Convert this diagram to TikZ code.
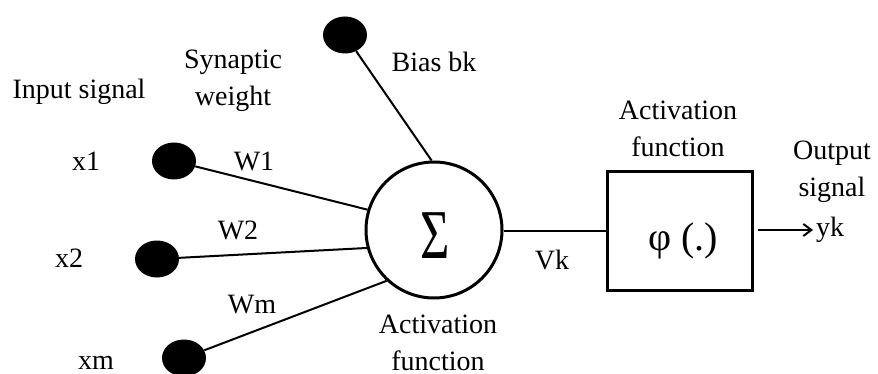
\documentclass[tikz,border=0pt]{standalone}
\usepackage{fontspec}
\usepackage{graphicx}
\setmainfont{LiberationSerif}[Extension=.ttf, UprightFont=*-Regular, BoldFont=*-Bold, ItalicFont=*-Italic]
\usetikzlibrary{shapes.geometric,arrows.meta}
\begin{document}
\begin{tikzpicture}[x=1pt,y=-1pt,
  lbl/.style={font=\fontsize{28}{37}\selectfont, align=center, inner sep=0pt},
  dot/.style={ellipse, fill=black, minimum width=44pt, minimum height=37pt, inner sep=0pt},
  wire/.style={line width=2pt},
  thick box/.style={draw, line width=3pt}]
\useasboundingbox (0,0) rectangle (878,374);
% dots
\node[dot] (b)  at (345,35) {};
\node[dot] (d1) at (174,161) {};
\node[dot] (d2) at (157,259) {};
\node[dot] (dm) at (184,358) {};
% summation circle
\node[circle, thick box, minimum size=136pt, inner sep=0pt] (sum) at (434,230) {};
\node[inner sep=0pt] (sig) at (435,236) {\scalebox{0.72}[1]{\fontsize{70}{70}\selectfont Σ}};
% activation box
\node[rectangle, thick box, minimum width=145pt, minimum height=118pt, inner sep=0pt] (box) at (679.5,231) {};
\node[inner sep=0pt, font=\fontsize{40}{44}\selectfont] (phi) at (683,241) {φ (.)};
% connectors
\draw[wire] (b) -- (sum.92);
\draw[wire] (d1) -- (sum.163);
\draw[wire] (d2) -- (sum.195);
\draw[wire] (dm) -- (sum.227);
\draw[wire] (sum.east |- box.west) -- (box.west);
\coordinate (arS) at (758,230);
\node[lbl, anchor=west] (yk) at (816,230) {yk};
\draw[wire, -{Straight Barb[length=8pt,width=12pt]}] (arS) -- ([xshift=-3pt]yk.west);
% labels
\node[lbl] (inp) at (79,92) {Input signal};
\node[lbl] (syn) at (233,81) {Synaptic\\weight};
\node[lbl] (bias) at (434,62) {Bias bk};
\node[lbl] (x1) at (86,161) {x1};
\node[lbl] (x2) at (69,258) {x2};
\node[lbl] (xm) at (96,363) {xm};
\node[lbl] (w1) at (254,161) {W1};
\node[lbl] (w2) at (238,230) {W2};
\node[lbl] (wm) at (252,305) {Wm};
\node[lbl] (vk) at (552,260) {Vk};
\node[lbl] (act1) at (678,129) {Activation\\function};
\node[lbl] (act2) at (438,343) {Activation\\function};
\node[lbl] (out) at (832,172) {Output\\signal};
\end{tikzpicture}
\end{document}
